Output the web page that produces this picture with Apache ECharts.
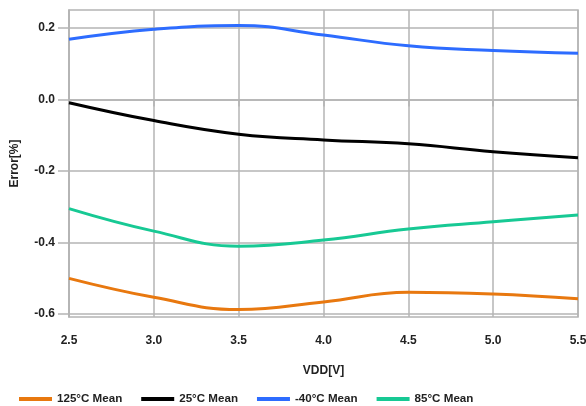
<!DOCTYPE html>
<html><head><meta charset="utf-8">
<script src="https://cdn.jsdelivr.net/npm/echarts@6/dist/echarts.min.js"></script>
<style>html,body{margin:0;padding:0;background:#fff}#c{width:586px;height:406px}</style>
</head><body><div id="c"></div>
<script>
const vdd = [2.5, 3.0, 3.5, 4.0, 4.5, 5.0, 5.5];
const mean125 = [-0.500, -0.553, -0.587, -0.566, -0.539, -0.544, -0.557];
const mean25 = [-0.009, -0.059, -0.097, -0.113, -0.124, -0.146, -0.163];
const meanM40 = [0.168, 0.196, 0.207, 0.180, 0.150, 0.137, 0.129];
const mean85 = [-0.305, -0.368, -0.410, -0.393, -0.362, -0.342, -0.323];
const yTicks = [-0.6, -0.4, -0.2, 0.0, 0.2];
const names = ['125°C Mean', '25°C Mean', '-40°C Mean', '85°C Mean'];
const colors = ['#e8780f', '#000000', '#2d6cff', '#17c994'];
const seriesVals = [mean125, mean25, meanM40, mean85];

const font = 'Liberation Sans, Arial, sans-serif';
const chart = echarts.init(document.getElementById('c'), null, {renderer: 'canvas'});
chart.setOption({
  animation: false,
  grid: {left: 69, right: 8, top: 10, bottom: 89, outerBoundsMode: 'none', containLabel: false,
    show: true, borderColor: '#b4b4b4', borderWidth: 1.5},
  legend: {
    top: 388, left: 14, itemWidth: 33, itemHeight: 4, itemGap: 19, icon: 'rect',
    textStyle: {fontFamily: font, fontWeight: 'bold', fontSize: 11.6, color: '#222'},
    data: names
  },
  xAxis: {
    type: 'value', min: 2.5, max: 5.5, interval: 0.5,
    name: 'VDD[V]', nameLocation: 'middle', nameGap: 48,
    nameTextStyle: {fontFamily: font, fontWeight: 'bold', fontSize: 12, color: '#222'},
    axisLine: {show: true, lineStyle: {color: '#b4b4b4', width: 1.5}},
    axisTick: {show: true, length: 7, lineStyle: {color: '#b4b4b4', width: 1.5}},
    axisLabel: {margin: 18, fontFamily: font, fontWeight: 'bold', fontSize: 12, color: '#222',
      formatter: v => v.toFixed(1)},
    splitLine: {show: true, lineStyle: {color: '#b4b4b4', width: 1.5}}
  },
  yAxis: {
    type: 'value', min: -0.608, max: 0.25,
    name: 'Error[%]', nameLocation: 'middle', nameGap: 48,
    nameTextStyle: {fontFamily: font, fontWeight: 'bold', fontSize: 12, color: '#222'},
    axisLine: {show: true, lineStyle: {color: '#b4b4b4', width: 1.5}},
    axisTick: {show: true, length: 11, customValues: yTicks, lineStyle: {color: '#b4b4b4', width: 1.5}},
    axisLabel: {margin: 14, customValues: yTicks, fontFamily: font, fontWeight: 'bold', fontSize: 12, color: '#222',
      formatter: v => v.toFixed(1)},
    splitLine: {show: true, lineStyle: {color: '#b4b4b4', width: 1.5}}
  },
  series: names.map((n, i) => ({
    name: n, type: 'line', smooth: 0.45, showSymbol: false, symbol: 'none',
    lineStyle: {color: colors[i], width: 3}, itemStyle: {color: colors[i]},
    data: vdd.map((x, j) => [x, seriesVals[i][j]])
  }))
});
</script></body></html>
